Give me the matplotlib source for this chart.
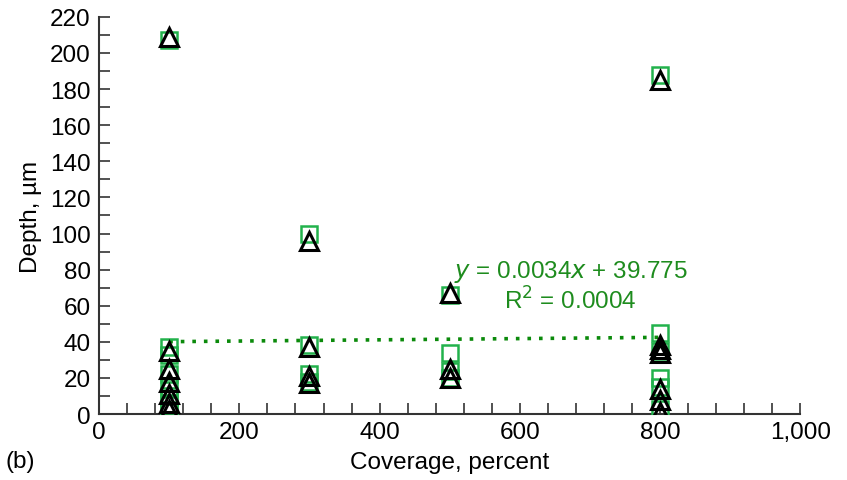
import matplotlib
matplotlib.use("Agg")
import matplotlib.pyplot as plt
from matplotlib.ticker import MultipleLocator, FuncFormatter

plt.rcParams['font.family'] = ['Liberation Sans', 'DejaVu Sans']

# Data
sq_x = [100, 100, 100, 100, 100, 100, 100, 100,
        300, 300, 300, 300,
        500, 500, 500, 500,
        800, 800, 800, 800, 800, 800]
sq_y = [207, 37, 33, 22, 15, 10, 5, 2,
        100, 38, 22, 18,
        66, 34, 24, 20,
        188, 45, 35, 20, 15, 3]
tri_x = [100, 100, 100, 100, 100, 100, 100,
         300, 300, 300, 300,
         500, 500, 500,
         800, 800, 800, 800, 800, 800, 800]
tri_y = [209, 35, 25, 18, 11, 6, 2,
         96, 37, 21, 17,
         67, 25, 20,
         185, 38, 36, 34, 14, 8, 1]

slope = 0.0034
intercept = 39.775
trend_x = [100, 800]

fig = plt.figure(figsize=(8.47, 4.81), dpi=100)
ax = fig.add_axes([0.117, 0.137, 0.828, 0.826])

green = '#22b24c'
ax.plot(sq_x, sq_y, linestyle='none', marker='s', markersize=11,
        markerfacecolor='none', markeredgecolor=green, markeredgewidth=1.8, zorder=3)
ax.plot(tri_x, tri_y, linestyle='none', marker='^', markersize=12.5,
        markerfacecolor='none', markeredgecolor='black', markeredgewidth=2.2, zorder=4)
ax.plot(trend_x, [slope * v + intercept for v in trend_x], linestyle=(0, (1, 2.2)),
        color='#0b8a0b', linewidth=2.6, zorder=2)

ax.set_xlim(0, 1000)
ax.set_ylim(0, 220)
ax.xaxis.set_major_locator(MultipleLocator(200))
ax.xaxis.set_minor_locator(MultipleLocator(40))
ax.yaxis.set_major_locator(MultipleLocator(20))
ax.yaxis.set_minor_locator(MultipleLocator(10))
ax.xaxis.set_major_formatter(FuncFormatter(lambda v, p: f"{int(v):,}"))
ax.tick_params(which='both', direction='in', color='#333333', width=1.2,
               labelsize=17.5, length=8)
ax.tick_params(axis='x', which='major', pad=5)
ax.tick_params(axis='y', which='major', pad=6)
for s in ['top', 'right']:
    ax.spines[s].set_visible(False)
for s in ['left', 'bottom']:
    ax.spines[s].set_linewidth(1.5)
    ax.spines[s].set_color('#333333')

ax.set_xlabel('Coverage, percent', fontsize=17.5, labelpad=6)
ax.set_ylabel('Depth, µm', fontsize=17.5, labelpad=6)

eq_color = '#1e8c1e'
ax.text(673, 79, r'$y$ = 0.0034$x$ + 39.775', color=eq_color, fontsize=17.5,
        ha='center', va='center')
ax.text(672, 63, 'R$^2$ = 0.0004', color=eq_color, fontsize=17.5,
        ha='center', va='center')

fig.text(5 / 847, 1 - 462 / 481, '(b)', fontsize=17.5, ha='left', va='center')

fig.savefig('out.png', dpi=100)
